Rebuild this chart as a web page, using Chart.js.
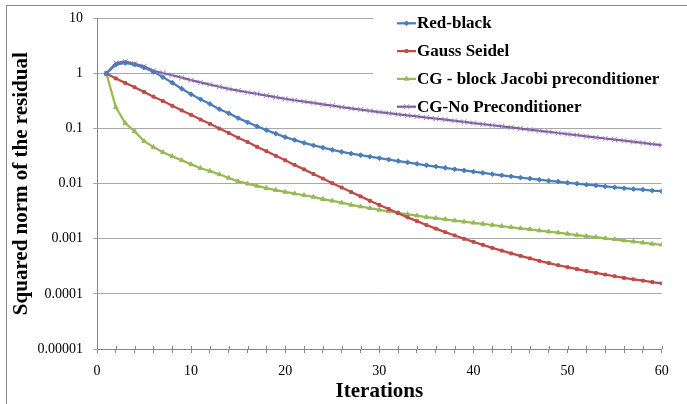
<!DOCTYPE html>
<html>
<head>
<meta charset="utf-8">
<script src="https://cdn.jsdelivr.net/npm/chart.js@4.4.1/dist/chart.umd.min.js"></script>
<style>
  html, body { margin: 0; padding: 0; background: #fff; }
  #wrap { position: relative; width: 687px; height: 404px; }
</style>
</head>
<body>
<div id="wrap"><canvas id="c" width="687" height="404"></canvas></div>
<script>
const iterations = [1,2,3,4,5,6,7,8,9,10,11,12,13,14,15,16,17,18,19,20,21,22,23,24,25,26,27,28,29,30,31,32,33,34,35,36,37,38,39,40,41,42,43,44,45,46,47,48,49,50,51,52,53,54,55,56,57,58,59,60];

const redBlack = [1.0,1.45,1.55,1.45,1.28,1.07,0.86,0.68,0.53,0.42,0.34,0.28,0.225,0.19,0.155,0.13,0.11,0.094,0.081,0.07,0.062,0.055,0.0495,0.045,0.041,0.0378,0.0352,0.033,0.0309,0.029,0.0274,0.0258,0.0243,0.0229,0.0216,0.0205,0.0194,0.0183,0.0174,0.0165,0.0157,0.0149,0.0142,0.0136,0.0129,0.0124,0.0118,0.0113,0.0109,0.0104,0.0100,0.0096,0.0093,0.0089,0.0086,0.0083,0.0080,0.0078,0.0075,0.0073];

const gaussSeidel = [1.0,0.813,0.676,0.562,0.462,0.380,0.316,0.260,0.214,0.178,0.146,0.122,0.100,0.0832,0.0684,0.0569,0.0468,0.0389,0.0320,0.0266,0.0219,0.0182,0.0150,0.0124,0.0102,0.00851,0.00708,0.00589,0.00490,0.00412,0.00347,0.00292,0.00245,0.00209,0.00178,0.00153,0.00132,0.00115,0.00100,0.000881,0.000776,0.000684,0.000610,0.000543,0.000490,0.000442,0.000398,0.000363,0.000331,0.000305,0.000282,0.000260,0.000240,0.000224,0.000209,0.000195,0.000184,0.000174,0.000164,0.000155];

const cgBlockJacobi = [1.0,0.243,0.126,0.089,0.059,0.0462,0.0372,0.0313,0.0266,0.0224,0.0191,0.0170,0.0148,0.0127,0.0110,0.0100,0.00912,0.00832,0.00767,0.00708,0.00661,0.00617,0.00575,0.00525,0.00490,0.00452,0.00412,0.00385,0.00359,0.00335,0.00313,0.00295,0.00279,0.00263,0.00248,0.00237,0.00226,0.00214,0.00204,0.00195,0.00186,0.00178,0.00170,0.00162,0.00155,0.00148,0.00141,0.00135,0.00129,0.00123,0.00117,0.00112,0.00107,0.00102,0.00098,0.00093,0.00089,0.00085,0.00081,0.00078];

const cgNoPrecond = [1.0,1.55,1.65,1.5,1.35,1.12,1.02,0.93,0.84,0.76,0.69,0.63,0.575,0.525,0.49,0.457,0.427,0.398,0.372,0.347,0.327,0.309,0.292,0.275,0.26,0.245,0.232,0.221,0.21,0.2,0.191,0.182,0.174,0.166,0.158,0.151,0.145,0.138,0.132,0.126,0.120,0.115,0.110,0.105,0.100,0.0955,0.0912,0.0871,0.0832,0.0794,0.0759,0.0724,0.0692,0.0661,0.0631,0.0603,0.0575,0.0550,0.0525,0.0501];

const seriesNames = ['Red-black', 'Gauss Seidel', 'CG - block Jacobi preconditioner', 'CG-No Preconditioner'];
const yTickValues = [0.00001, 0.0001, 0.001, 0.01, 0.1, 1, 10];
const yTickLabels = ['0.00001', '0.0001', '0.001', '0.01', '0.1', '1', '10'];
const xTickLabels = [0, 10, 20, 30, 40, 50, 60];

const colors = ['#4A7EBB', '#BE4B48', '#98B954', '#7D60A0'];
const markerColors = ['#4A7EBB', '#BE4B48', '#98B954', '#9E86C0'];
const pointStyles = ['rectRot', 'rect', 'triangle', 'crossRot'];
const pointRadii = [2.4, 2.0, 2.6, 3.6];
const allSeries = [redBlack, gaussSeidel, cgBlockJacobi, cgNoPrecond];

const serif = "'Liberation Serif', 'Times New Roman', serif";

const datasets = allSeries.map((vals, i) => ({
  label: seriesNames[i],
  data: iterations.map((x, k) => ({ x: x, y: vals[k] })),
  borderColor: colors[i],
  backgroundColor: markerColors[i],
  pointBorderColor: markerColors[i],
  pointBackgroundColor: markerColors[i],
  pointStyle: pointStyles[i],
  pointRadius: pointRadii[i],
  pointBorderWidth: 1,
  borderWidth: 2.25,
  tension: 0,
  fill: false
}));

const legendBox = { left: 373, top: 11, right: 668, bottom: 116 };

const frameAndLegend = {
  id: 'frameAndLegend',
  beforeDraw(chart) {
    const ctx = chart.ctx;
    ctx.save();
    ctx.fillStyle = '#fff';
    ctx.fillRect(0, 0, chart.width, chart.height);
    ctx.strokeStyle = '#8c8c8c';
    ctx.lineWidth = 1;
    ctx.strokeRect(6.5, 5.5, 720, 440);
    ctx.restore();
  },
  beforeDatasetsDraw(chart) {
    const ctx = chart.ctx;
    ctx.save();
    ctx.fillStyle = '#fff';
    ctx.fillRect(legendBox.left, legendBox.top, legendBox.right - legendBox.left, legendBox.bottom - legendBox.top);
    // small tick marks crossing the x axis (upper half)
    const xs = chart.scales.x;
    const yb = chart.chartArea.bottom;
    ctx.strokeStyle = '#868686';
    ctx.lineWidth = 1;
    xs.ticks.forEach(t => {
      const px = Math.round(xs.getPixelForValue(t.value)) + 0.5;
      ctx.beginPath();
      ctx.moveTo(px, yb - 3);
      ctx.lineTo(px, yb);
      ctx.stroke();
    });
    ctx.restore();
  },
  afterDraw(chart) {
    const ctx = chart.ctx;
    ctx.save();
    chart.data.datasets.forEach((ds, i) => {
      const y = 23.3 + i * 27.8;
      ctx.strokeStyle = ds.borderColor;
      ctx.lineWidth = 2.25;
      ctx.beginPath();
      ctx.moveTo(397, y);
      ctx.lineTo(416, y);
      ctx.stroke();
      ctx.strokeStyle = ds.pointBorderColor;
      ctx.fillStyle = ds.pointBackgroundColor;
      ctx.lineWidth = 1;
      Chart.helpers.drawPoint(ctx, { pointStyle: ds.pointStyle, radius: ds.pointRadius, rotation: 0, borderWidth: 1 }, 406.5, y);
      ctx.fillStyle = '#000';
      ctx.font = "bold 17px " + serif;
      ctx.textBaseline = 'middle';
      ctx.textAlign = 'left';
      ctx.fillText(ds.label, 417, y + 0.5);
    });
    ctx.restore();
  }
};

new Chart(document.getElementById('c'), {
  type: 'line',
  data: { datasets: datasets },
  options: {
    responsive: false,
    animation: false,
    events: [],
    layout: { padding: { left: 0, top: 15, right: 25.3, bottom: 0 } },
    plugins: {
      legend: { display: false },
      tooltip: { enabled: false }
    },
    scales: {
      x: {
        type: 'linear',
        min: 0,
        max: 60,
        afterBuildTicks(scale) {
          const t = [];
          for (let v = 0; v <= 60; v += 2) t.push({ value: v });
          scale.ticks = t;
        },
        afterFit(scale) { scale.height = 55; },
        ticks: {
          autoSkip: false,
          maxRotation: 0,
          padding: 10,
          color: '#000',
          font: { family: serif, size: 14 },
          callback: (v) => xTickLabels.includes(v) ? String(v) : ''
        },
        grid: {
          drawOnChartArea: false,
          drawTicks: true,
          tickLength: 4,
          color: '#868686'
        },
        border: { display: true, color: '#868686', width: 1 },
        title: {
          display: true,
          text: 'Iterations',
          color: '#000',
          font: { family: serif, size: 21, weight: 'bold' },
          padding: { top: 0, bottom: 0 }
        }
      },
      y: {
        type: 'logarithmic',
        min: 0.00001,
        max: 10,
        afterBuildTicks(scale) {
          scale.ticks = yTickValues.map(v => ({ value: v }));
        },
        afterFit(scale) { scale.width = 97; },
        ticks: {
          autoSkip: false,
          padding: 10,
          color: '#000',
          font: { family: serif, size: 14 },
          callback: (v) => {
            const k = yTickValues.findIndex(t => Math.abs(Math.log10(t) - Math.log10(v)) < 1e-6);
            return k >= 0 ? yTickLabels[k] : '';
          }
        },
        grid: {
          drawOnChartArea: true,
          drawTicks: true,
          tickLength: 4,
          color: '#a8a8a8',
          lineWidth: 1
        },
        border: { display: true, color: '#868686', width: 1 },
        title: {
          display: true,
          text: 'Squared norm of the residual',
          color: '#000',
          font: { family: serif, size: 21, weight: 'bold' },
          padding: { top: 9, bottom: 0 }
        }
      }
    }
  },
  plugins: [frameAndLegend]
});
</script>
</body>
</html>
